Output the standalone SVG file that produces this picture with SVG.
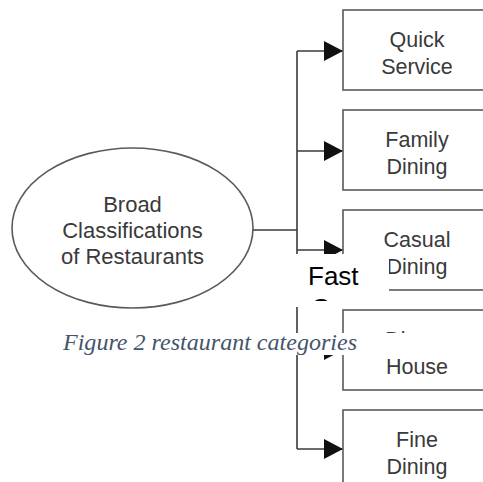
<svg xmlns="http://www.w3.org/2000/svg" width="483" height="482" viewBox="0 0 483 482">
  <style>
    .box { fill: #ffffff; stroke: #5a5a5a; stroke-width: 1.6; }
    .lbl { font-family: "Liberation Sans", Arial, sans-serif; font-size: 21.5px; fill: #3a3a3a; text-anchor: middle; }
    .conn { fill: none; stroke: #3a3a3a; stroke-width: 1.6; }
    .cap { font-family: "Liberation Serif", "Times New Roman", serif; font-style: italic; font-size: 23px; fill: #44546A; }
    .fast { font-family: "Liberation Sans", Arial, sans-serif; font-size: 26px; fill: #000000; }
  </style>
  <defs>
    <marker id="arrow" markerUnits="userSpaceOnUse" markerWidth="20" markerHeight="22" refX="19" refY="10" orient="auto">
      <polygon points="0,0 19,10 0,20" fill="#111111"/>
    </marker>
    <clipPath id="fastClip">
      <rect x="293" y="254" width="96" height="47"/>
    </clipPath>
  </defs>
  <rect width="483" height="482" fill="#ffffff"/>

  <g id="connectors">
    <path class="conn" d="M253,230 H297"/>
    <path class="conn" d="M297,51 V449"/>
    <path class="conn" d="M297,51 H343" marker-end="url(#arrow)"/>
    <path class="conn" d="M297,151 H343" marker-end="url(#arrow)"/>
    <path class="conn" d="M297,250 H343" marker-end="url(#arrow)"/>
    <path class="conn" d="M297,350 H343" marker-end="url(#arrow)"/>
    <path class="conn" d="M297,449 H343" marker-end="url(#arrow)"/>
  </g>

  <g id="root">
    <ellipse class="box" cx="132.5" cy="228" rx="120.5" ry="80"/>
    <text class="lbl" font-size="22" x="132.5" y="212" style="font-size:22px">Broad</text>
    <text class="lbl" x="132.5" y="238" style="font-size:22px">Classifications</text>
    <text class="lbl" x="132.5" y="264" style="font-size:22px">of Restaurants</text>
  </g>

  <g id="quick-service">
    <rect class="box" x="343" y="10" width="148" height="80"/>
    <text class="lbl" x="417" y="47">Quick</text>
    <text class="lbl" x="417" y="74">Service</text>
  </g>

  <g id="family-dining">
    <rect class="box" x="343" y="110" width="148" height="80"/>
    <text class="lbl" x="417" y="147">Family</text>
    <text class="lbl" x="417" y="174">Dining</text>
  </g>

  <g id="casual-dining">
    <rect class="box" x="343" y="210" width="148" height="80"/>
    <text class="lbl" x="417" y="247">Casual</text>
    <text class="lbl" x="417" y="274">Dining</text>
  </g>

  <g id="dinner-house">
    <rect class="box" x="343" y="310" width="148" height="80"/>
    <text class="lbl" x="417" y="347">Dinner</text>
    <text class="lbl" x="417" y="374">House</text>
  </g>

  <g id="fine-dining">
    <rect class="box" x="343" y="410" width="148" height="80"/>
    <text class="lbl" x="417" y="447">Fine</text>
    <text class="lbl" x="417" y="474">Dining</text>
  </g>

  <g id="fast-casual-overlay">
    <rect x="293" y="254" width="96" height="53" fill="#ffffff"/>
    <g clip-path="url(#fastClip)">
      <text class="fast" x="308" y="285">Fast</text>
      <text class="fast" x="311" y="317">C</text>
    </g>
  </g>

  <g id="caption">
    <rect x="55" y="333" width="428" height="22" fill="#ffffff"/>
    <text class="cap" x="63" y="350" textLength="294" lengthAdjust="spacingAndGlyphs">Figure 2 restaurant categories</text>
  </g>
</svg>
